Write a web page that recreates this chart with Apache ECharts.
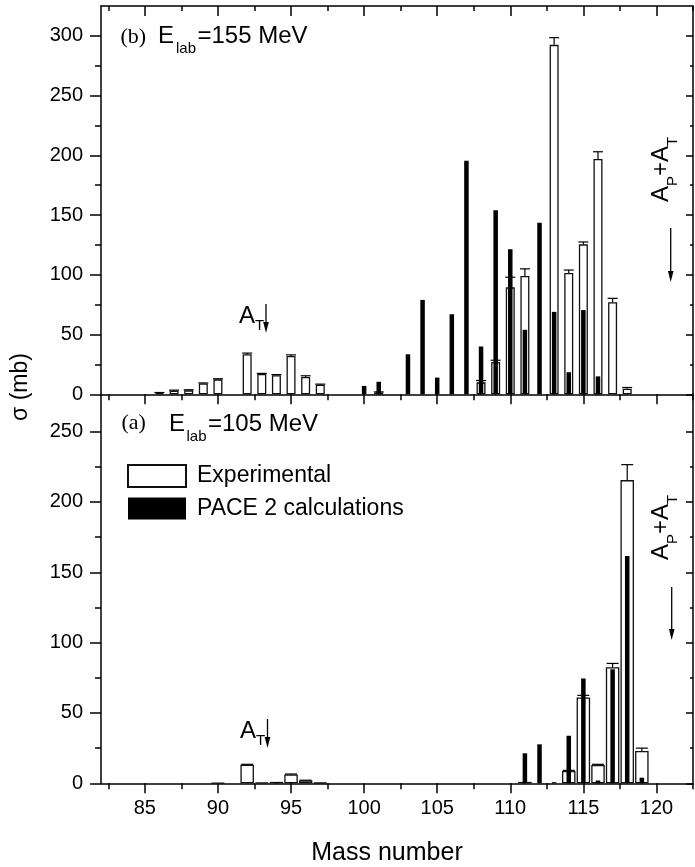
<!DOCTYPE html>
<html>
<head>
<meta charset="utf-8">
<script src="https://cdn.jsdelivr.net/npm/echarts@6/dist/echarts.min.js"></script>
<style>
  html, body { margin: 0; padding: 0; background: #fff; }
  #chart { width: 695px; height: 867px; }
</style>
</head>
<body>
<div id="chart"></div>
<script>
// upper panel (b): E_lab = 155 MeV, cross sections in mb
const massExp155 = [86, 87, 88, 89, 90, 92, 93, 94, 95, 96, 97, 101, 108, 109, 110, 111, 113, 114, 115, 116, 117, 118];
const sigmaExp155 = [1, 3, 3.3, 9, 12.5, 33.5, 17, 16, 32, 14.5, 8, 1.5, 10, 27, 89.5, 99, 292.5, 101.5, 125.5, 197, 77, 4.7];
const errExp155 = [0.5, 0.5, 0.5, 0.5, 0.5, 1, 0.5, 0.5, 1, 1, 0.5, 0.5, 1.5, 1.5, 8.5, 6, 6, 2.5, 2, 6, 3.3, 1];
const massCalc155 = [100, 101, 103, 104, 105, 106, 107, 108, 109, 110, 111, 112, 113, 114, 115, 116];
const sigmaCalc155 = [7, 10.5, 33.5, 79, 14, 67, 195.5, 40, 154, 121.5, 54, 143.5, 69, 18.5, 70.5, 15];

// lower panel (a): E_lab = 105 MeV
const massExp105 = [90, 92, 93, 94, 95, 96, 97, 111, 114, 115, 116, 117, 118, 119];
const sigmaExp105 = [0.3, 13.2, 0.5, 1, 6.3, 2, 0.4, 1, 8.7, 61, 13, 82.5, 215.5, 23];
const errExp105 = [0, 0.3, 0, 0, 0.3, 0.2, 0, 0, 0.5, 1.5, 0.5, 2.7, 11, 2];
const massCalc105 = [94, 111, 112, 113, 114, 115, 116, 117, 118, 119];
const sigmaCalc105 = [0.6, 21.3, 27.7, 0.8, 33.8, 74.5, 2, 81, 161.5, 4];

// ticks
const xMajor = [85, 90, 95, 100, 105, 110, 115, 120];
const xMinor = [82.5, 87.5, 92.5, 97.5, 102.5, 107.5, 112.5, 117.5, 122.5];
const yMajor155 = [0, 50, 100, 150, 200, 250, 300];
const yMinor155 = [25, 75, 125, 175, 225, 275];
const yMajor105 = [0, 50, 100, 150, 200, 250];
const yMinor105 = [25, 75, 125, 175, 225];

const FONT = 'Liberation Sans, Arial, Helvetica, sans-serif';
const SERIF = 'Liberation Serif, DejaVu Serif, serif';
const LW = 1.5;

function xAx(grid, pos, ticks, len, inside, labels, line) {
  return {
    type: 'value', gridIndex: grid, position: pos, min: 82, max: 122.5,
    axisLine: { show: line, onZero: false, lineStyle: { color: '#000', width: LW } },
    axisTick: { show: true, inside: inside, length: len, customValues: ticks, lineStyle: { color: '#000', width: LW } },
    axisLabel: labels
      ? { show: true, customValues: xMajor, margin: 15, color: '#000', fontSize: 20, fontFamily: FONT }
      : { show: false },
    splitLine: { show: false }
  };
}

function yAx(grid, pos, max, ticks, len, inside, labels, line) {
  return {
    type: 'value', gridIndex: grid, position: pos, min: 0, max: max,
    axisLine: { show: line, onZero: false, lineStyle: { color: '#000', width: LW } },
    axisTick: { show: true, inside: inside, length: len, customValues: ticks, lineStyle: { color: '#000', width: LW } },
    axisLabel: labels
      ? { show: true, customValues: labels, margin: 18, color: '#000', fontSize: 20, fontFamily: FONT }
      : { show: false },
    splitLine: { show: false }
  };
}

const pairs = (xs, ys) => xs.map((x, i) => [x, ys[i]]);
const triples = (xs, ys, es) => xs.map((x, i) => [x, ys[i], es[i]]);

function errorBar(cap) {
  return function (params, api) {
    const e = api.value(2);
    if (!e) return null;
    const p0 = api.coord([api.value(0), api.value(1)]);
    const p1 = api.coord([api.value(0), api.value(1) + e]);
    const st = { stroke: '#000', lineWidth: 1.2 };
    return {
      type: 'group',
      children: [
        { type: 'line', shape: { x1: p0[0], y1: p0[1], x2: p1[0], y2: p1[1] }, style: st },
        { type: 'line', shape: { x1: p1[0] - cap, y1: p1[1], x2: p1[0] + cap, y2: p1[1] }, style: st }
      ]
    };
  };
}

function arrow(x, y1, y2) {
  return [
    { type: 'line', shape: { x1: x, y1: y1, x2: x, y2: y2 - 8 }, style: { stroke: '#000', lineWidth: 1.3 } },
    { type: 'polygon', shape: { points: [[x - 2.8, y2 - 11], [x + 2.8, y2 - 11], [x, y2]] }, style: { fill: '#000' } }
  ];
}

function txt(x, y, s, size, family, align) {
  return {
    type: 'text', x: x, y: y,
    style: { text: s, fill: '#000', font: size + 'px ' + family, textAlign: align || 'left', textVerticalAlign: 'middle' }
  };
}

// A_P + A_T written upward
function apat(x, y) {
  return {
    type: 'group', x: x, y: y, rotation: Math.PI / 2,
    children: [
      txt(0, 0, 'A', 24, FONT),
      txt(16, 12, 'P', 15, FONT),
      txt(26, 0, '+', 24, FONT),
      txt(40, 0, 'A', 24, FONT),
      txt(56, 12, 'T', 15, FONT)
    ]
  };
}

const chart = echarts.init(document.getElementById('chart'));

const option = {
  animation: false,
  backgroundColor: '#fff',
  grid: [
    { left: 101, top: 6, width: 592, height: 388.3 },
    { left: 101, top: 394.3, width: 592, height: 389 }
  ],
  xAxis: [
    xAx(0, 'bottom', xMajor, 10, false, false, true),
    xAx(0, 'bottom', xMinor, 6, false, false, false),
    xAx(0, 'top', xMajor, 10, true, false, true),
    xAx(0, 'top', xMinor, 5, true, false, false),
    xAx(1, 'bottom', xMajor, 10, false, true, true),
    xAx(1, 'bottom', xMinor, 6, false, false, false),
    xAx(1, 'top', xMajor, 10, true, false, false),
    xAx(1, 'top', xMinor, 5, true, false, false)
  ],
  yAxis: [
    yAx(0, 'left', 325, yMajor155, 11, false, yMajor155, true),
    yAx(0, 'left', 325, yMinor155, 6, false, null, false),
    yAx(0, 'right', 325, yMajor155, 7, true, null, true),
    yAx(0, 'right', 325, yMinor155, 3, true, null, false),
    yAx(1, 'left', 276.5, yMajor105, 11, false, yMajor105, true),
    yAx(1, 'left', 276.5, yMinor105, 6, false, null, false),
    yAx(1, 'right', 276.5, yMajor105, 7, true, null, true),
    yAx(1, 'right', 276.5, yMinor105, 3, true, null, false)
  ],
  legend: {
    data: ['Experimental', 'PACE 2 calculations'],
    orient: 'vertical', left: 127, top: 464, padding: 0,
    itemWidth: 58, itemHeight: 22, itemGap: 9,
    icon: 'rect', selectedMode: false,
    textStyle: { fontSize: 23, color: '#000', fontFamily: FONT, padding: [0, 0, 0, 6] }
  },
  series: [
    {
      name: 'Experimental', type: 'bar', xAxisIndex: 0, yAxisIndex: 0, barWidth: 9,
      itemStyle: { color: '#fff', borderColor: '#111', borderWidth: 1.3 },
      data: pairs(massExp155, sigmaExp155)
    },
    {
      type: 'custom', xAxisIndex: 0, yAxisIndex: 0, encode: { x: 0, y: 1 }, z: 3,
      renderItem: errorBar(5), data: triples(massExp155, sigmaExp155, errExp155)
    },
    {
      name: 'PACE 2 calculations', type: 'bar', xAxisIndex: 1, yAxisIndex: 0, barWidth: 4.5, z: 4,
      itemStyle: { color: '#000' },
      data: pairs(massCalc155, sigmaCalc155)
    },
    {
      name: 'Experimental', type: 'bar', xAxisIndex: 4, yAxisIndex: 4, barWidth: 13.5,
      itemStyle: { color: '#fff', borderColor: '#111', borderWidth: 1.3 },
      data: pairs(massExp105, sigmaExp105)
    },
    {
      type: 'custom', xAxisIndex: 4, yAxisIndex: 4, encode: { x: 0, y: 1 }, z: 3,
      renderItem: errorBar(6), data: triples(massExp105, sigmaExp105, errExp105)
    },
    {
      name: 'PACE 2 calculations', type: 'bar', xAxisIndex: 5, yAxisIndex: 4, barWidth: 4.5, z: 4,
      itemStyle: { color: '#000' },
      data: pairs(massCalc105, sigmaCalc105)
    }
  ],
  graphic: [
    // panel titles
    txt(120.5, 37, '(b)', 22, SERIF),
    txt(158, 36.7, 'E', 24, FONT),
    txt(176, 49, 'lab', 15, FONT),
    txt(197.5, 36.7, '=155 MeV', 24, FONT),
    txt(121.5, 423.5, '(a)', 22, SERIF),
    txt(169, 424.7, 'E', 24, FONT),
    txt(186.5, 436.5, 'lab', 15, FONT),
    txt(208, 424.7, '=105 MeV', 24, FONT),
    // target mass markers
    txt(239, 316, 'A', 24, FONT),
    txt(255, 326, 'T', 15, FONT),
    ...arrow(266, 304, 333),
    txt(240, 731, 'A', 24, FONT),
    txt(256, 741, 'T', 15, FONT),
    ...arrow(267.5, 719, 748),
    // compound nucleus markers
    apat(661, 202),
    ...arrow(670.7, 228, 282),
    apat(661, 560),
    ...arrow(671.7, 587, 640),
    // axis titles
    {
      type: 'text', x: 21, y: 387, rotation: Math.PI / 2,
      style: { text: 'σ (mb)', fill: '#000', font: '23px ' + FONT, textAlign: 'center', textVerticalAlign: 'middle' }
    },
    txt(387, 853, 'Mass number', 25, FONT, 'center')
  ]
};

chart.setOption(option);
</script>
</body>
</html>
